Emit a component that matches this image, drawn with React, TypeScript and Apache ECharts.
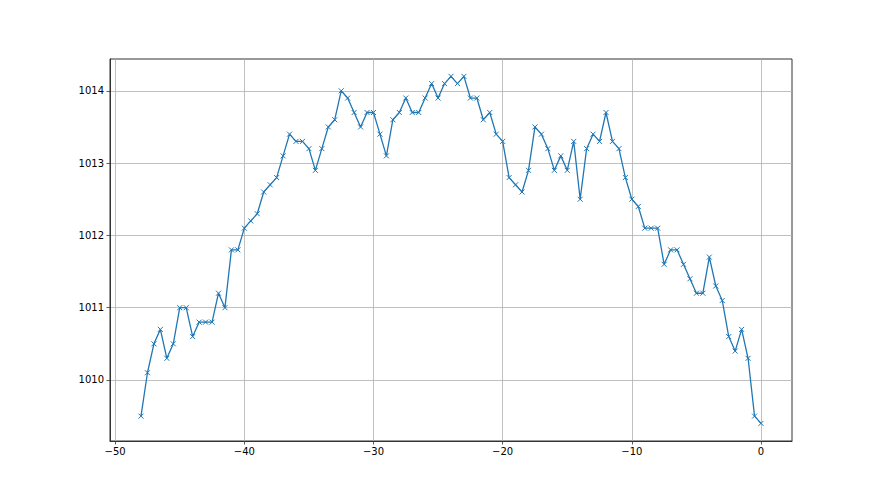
import React, { useEffect, useRef } from "react";
import * as echarts from "echarts";

const xStart = -48;
const xStep = 0.5;
const pressure: number[] = [
  1009.5, 1010.1, 1010.5, 1010.7, 1010.3, 1010.5, 1011.0, 1011.0, 1010.6, 1010.8,
  1010.8, 1010.8, 1011.2, 1011.0, 1011.8, 1011.8, 1012.1, 1012.2, 1012.3, 1012.6,
  1012.7, 1012.8, 1013.1, 1013.4, 1013.3, 1013.3, 1013.2, 1012.9, 1013.2, 1013.5,
  1013.6, 1014.0, 1013.9, 1013.7, 1013.5, 1013.7, 1013.7, 1013.4, 1013.1, 1013.6,
  1013.7, 1013.9, 1013.7, 1013.7, 1013.9, 1014.1, 1013.9, 1014.1, 1014.2, 1014.1,
  1014.2, 1013.9, 1013.9, 1013.6, 1013.7, 1013.4, 1013.3, 1012.8, 1012.7, 1012.6,
  1012.9, 1013.5, 1013.4, 1013.2, 1012.9, 1013.1, 1012.9, 1013.3, 1012.5, 1013.2,
  1013.4, 1013.3, 1013.7, 1013.3, 1013.2, 1012.8, 1012.5, 1012.4, 1012.1, 1012.1,
  1012.1, 1011.6, 1011.8, 1011.8, 1011.6, 1011.4, 1011.2, 1011.2, 1011.7, 1011.3,
  1011.1, 1010.6, 1010.4, 1010.7, 1010.3, 1009.5, 1009.4,
];
const xTicks = [-50, -40, -30, -20, -10, 0];
const yTicks = [1010, 1011, 1012, 1013, 1014];

const fmt = (v: number) => (v < 0 ? "\u2212" + Math.abs(v) : String(v));

export default function App() {
  const ref = useRef<HTMLDivElement>(null);
  useEffect(() => {
    if (!ref.current) return;
    const chart = echarts.init(ref.current, undefined, { renderer: "svg" });
    const data = pressure.map((v, i) => [xStart + i * xStep, v]);
    const font = { fontFamily: "DejaVu Sans", fontSize: 10, color: "#000" };
    chart.setOption({
      animation: false,
      backgroundColor: "#fff",
      grid: {
        left: 110,
        right: 88,
        top: 59,
        bottom: 54,
        show: true,
        borderColor: "#333",
        borderWidth: 1,
        backgroundColor: "transparent",
      },
      xAxis: {
        type: "value",
        min: -50.4,
        max: 2.4,
        axisLine: { show: true, onZero: false, lineStyle: { color: "#333", width: 1 } },
        axisTick: {
          show: true,
          length: 3.5,
          lineStyle: { color: "#333", width: 0.8 },
          customValues: xTicks,
        },
        axisLabel: {
          ...font,
          margin: 5,
          customValues: xTicks,
          formatter: (v: number) => fmt(v),
        },
        splitLine: { show: true, lineStyle: { color: "#b0b0b0", width: 0.8 } },
      },
      yAxis: {
        type: "value",
        min: 1009.156,
        max: 1014.44,
        axisLine: { show: true, onZero: false, lineStyle: { color: "#333", width: 1 } },
        axisTick: {
          show: true,
          length: 3.5,
          lineStyle: { color: "#333", width: 0.8 },
          customValues: yTicks,
        },
        axisLabel: {
          ...font,
          margin: 6,
          customValues: yTicks,
          formatter: (v: number) => String(v),
        },
        splitLine: { show: true, lineStyle: { color: "#b0b0b0", width: 0.8 } },
      },
      series: [
        {
          type: "line",
          data,
          symbol: "path://M0,0L10,10M10,0L0,10",
          symbolSize: 5,
          showAllSymbol: true,
          lineStyle: { color: "#1f77b4", width: 1.3 },
          itemStyle: { color: "transparent", borderColor: "#1f77b4", borderWidth: 1 },
          emphasis: { disabled: true },
        },
      ],
    });
    return () => chart.dispose();
  }, []);
  return (
    <div
      ref={ref}
      style={{ position: "fixed", left: 0, top: 0, width: 880, height: 495 }}
    />
  );
}
